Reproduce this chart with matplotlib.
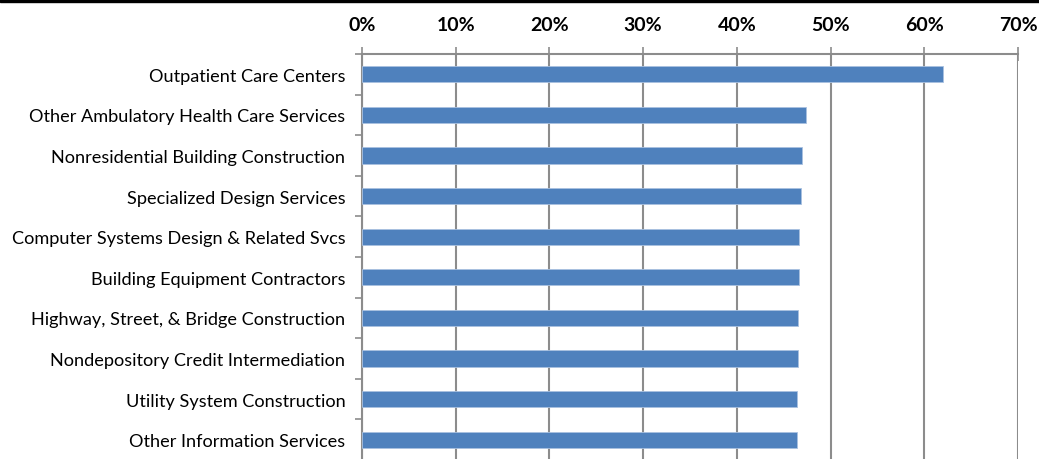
import matplotlib
matplotlib.use("Agg")
import matplotlib.pyplot as plt
from matplotlib.patches import Rectangle
from matplotlib.ticker import FuncFormatter

categories = [
    "Outpatient Care Centers",
    "Other Ambulatory Health Care Services",
    "Nonresidential Building Construction",
    "Specialized Design Services",
    "Computer Systems Design & Related Svcs",
    "Building Equipment Contractors",
    "Highway, Street, & Bridge Construction",
    "Nondepository Credit Intermediation",
    "Utility System Construction",
    "Other Information Services",
]
values = [0.620, 0.474, 0.469, 0.468, 0.466, 0.466, 0.465, 0.465, 0.464, 0.464]
xticks = [0, 0.1, 0.2, 0.3, 0.4, 0.5, 0.6, 0.7]

plt.rcParams['font.family'] = ['Lato', 'DejaVu Sans']

W, H = 1039, 460
fig = plt.figure(figsize=(W / 100, H / 100), dpi=100)
left, right, top, bottom = 362, 1018, 55, 461
ax = fig.add_axes([left / W, 1 - bottom / H, (right - left) / W, (bottom - top) / H])

n = len(categories)
ypos = list(range(n))
ax.barh(ypos, values, height=0.4, color='#4f81bd', edgecolor='#a9c1e0', linewidth=0.6, zorder=3)
ax.set_ylim(n - 0.5, -0.5)
ax.set_xlim(0, 0.7)

ax.xaxis.tick_top()
ax.set_xticks(xticks)
ax.xaxis.set_major_formatter(FuncFormatter(lambda v, p: f"{v*100:.0f}%"))
for lab in ax.get_xticklabels():
    lab.set_fontweight('bold')
ax.tick_params(axis='x', which='major', direction='inout', length=10, width=1.2,
               color='#8c8c8c', labelsize=14, pad=10)

ax.set_yticks(ypos)
ax.set_yticklabels(categories)
ax.tick_params(axis='y', which='major', length=0, labelsize=13.1, pad=12)
ax.set_yticks([i + 0.5 for i in range(-1, n)], minor=True)
ax.tick_params(axis='y', which='minor', direction='out', length=5, width=1.2, color='#8c8c8c')

ax.grid(axis='x', color='#8c8c8c', linewidth=1.5, zorder=0)
for s in ['left', 'top']:
    ax.spines[s].set_color('#8c8c8c')
    ax.spines[s].set_linewidth(1.5)
for s in ['right', 'bottom']:
    ax.spines[s].set_visible(False)

fig.patches.append(Rectangle((0, 1 - 3 / H), 1, 3 / H, transform=fig.transFigure,
                             color='black', zorder=10))

fig.savefig("out.png", dpi=100)
